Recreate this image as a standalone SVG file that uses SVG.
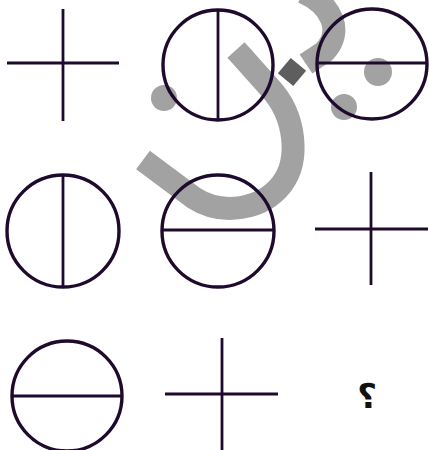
<svg xmlns="http://www.w3.org/2000/svg" width="429" height="450" viewBox="0 0 429 450">
<style>
.ln{stroke:#1e0a2c;stroke-width:2.8;fill:none}
.cr{stroke:#1e0a2c;stroke-width:3.4;fill:none}
.wm{stroke:#a2a2a2;stroke-width:23;fill:none}
.dot{fill:#a2a2a2}
</style>
<rect width="429" height="450" fill="#ffffff"/>
<g id="watermark">
<path class="wm" d="M303,-8 C332,5 344,32 324,52 L306,64"/>
<rect x="282" y="62" width="20" height="20" fill="#5e5e5e" transform="rotate(40 292 72)"/>
<path class="wm" d="M236,50 L270,88 C296,116 300,160 282,184 C262,210 222,216 194,198 L143,160"/>
<circle class="dot" cx="164" cy="98" r="13"/>
<circle class="dot" cx="378" cy="72" r="14"/>
<circle class="dot" cx="344" cy="107" r="13"/>
</g>
<g id="r1c1">
<line class="ln" x1="7" y1="63" x2="119" y2="63"/>
<line class="ln" x1="63" y1="9" x2="63" y2="121"/>
</g>
<g id="r1c2">
<circle class="cr" cx="218" cy="65" r="55"/>
<line class="ln" x1="218" y1="10" x2="218" y2="120"/>
</g>
<g id="r1c3">
<circle class="cr" cx="372" cy="64" r="55"/>
<line class="ln" x1="317" y1="63" x2="427" y2="63"/>
</g>
<g id="r2c1">
<circle class="cr" cx="63" cy="231" r="56"/>
<line class="ln" x1="63" y1="175" x2="63" y2="287"/>
</g>
<g id="r2c2">
<circle class="cr" cx="218" cy="231" r="56"/>
<line class="ln" x1="162" y1="230" x2="274" y2="230"/>
</g>
<g id="r2c3">
<line class="ln" x1="315" y1="229" x2="428" y2="229"/>
<line class="ln" x1="371" y1="172" x2="371" y2="285"/>
</g>
<g id="r3c1">
<circle class="cr" cx="67" cy="396" r="55"/>
<line class="ln" x1="12" y1="396" x2="122" y2="396"/>
</g>
<g id="r3c2">
<line class="ln" x1="165" y1="394" x2="278" y2="394"/>
<line class="ln" x1="222" y1="338" x2="222" y2="452"/>
</g>
<g id="r3c3">
<text x="367" y="408" font-family="'DejaVu Sans', sans-serif" font-size="34" font-weight="bold" text-anchor="middle" fill="#111">؟</text>
</g>
</svg>
